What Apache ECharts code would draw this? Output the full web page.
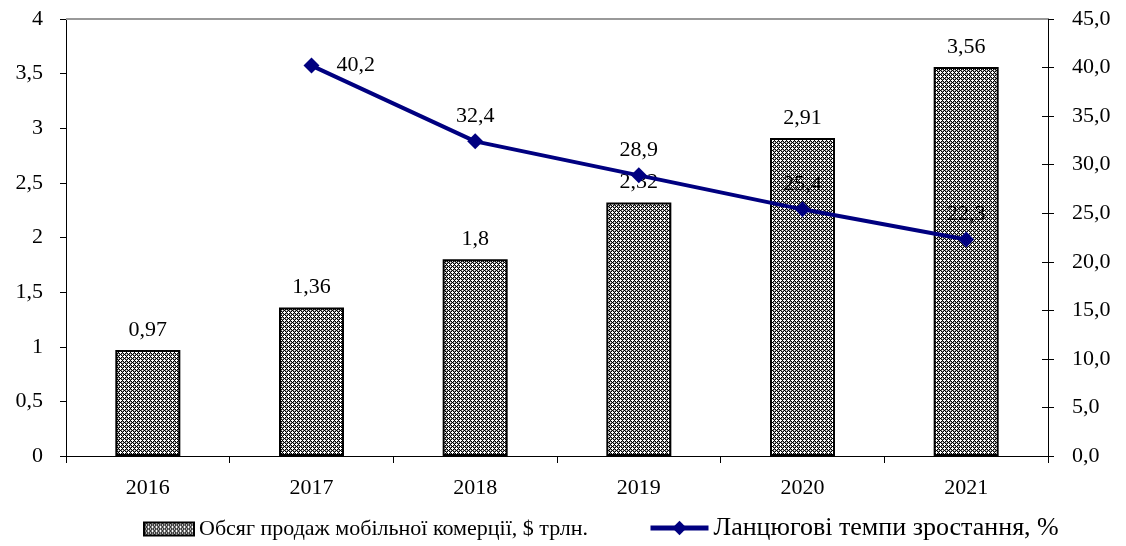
<!DOCTYPE html>
<html><head><meta charset="utf-8">
<script src="https://cdn.jsdelivr.net/npm/echarts@6/dist/echarts.min.js"></script>
<style>html,body{margin:0;padding:0;background:#fff}#c{width:1126px;height:546px}</style>
</head><body><div id="c"></div>
<script>
const years = ['2016','2017','2018','2019','2020','2021'];
const salesVolume = [0.97, 1.36, 1.8, 2.32, 2.91, 3.56];
const growthRate = [null, 40.2, 32.4, 28.9, 25.4, 22.3];
const barName = 'Обсяг продаж мобільної комерції, $ трлн.';
const lineName = 'Ланцюгові темпи зростання, %';

function makePattern(){
  const rows = ['WWBWWWBW','WBGBWBGB','BGWGBGWG','WBGBWBGB','WWBWWWBW','WBGBWBGB','BGWGBGWG','WBGBWBGB'];
  const col = {W:'#fff', B:'#000', G:'#777'};
  const c = document.createElement('canvas');
  c.width = 8; c.height = 8;
  const g = c.getContext('2d');
  rows.forEach((r,y)=>{ for(let x=0;x<8;x++){ g.fillStyle = col[r[x]]; g.fillRect(x,y,1,1);} });
  return c;
}
const pat = {image: makePattern(), repeat: 'repeat'};
const fmt = v => String(v).replace('.', ',');
const font = '"Liberation Serif", "Times New Roman", serif';
const FS = 22;

const chart = echarts.init(document.getElementById('c'));
chart.setOption({
  animation: false,
  textStyle: {fontFamily: font, color: '#000'},
  grid: {left: 66, right: 78, top: 19, bottom: 90},
  legend: [
    {data: [{name: barName, icon: 'rect'}], left: 138, bottom: 1, itemWidth: 50, itemHeight: 13, itemGap: 6,
     textStyle: {fontFamily: font, fontSize: FS, color: '#000'}},
    {data: [lineName], left: 643, bottom: 0, itemWidth: 58, itemHeight: 18, itemGap: 5,
     lineStyle: {width: 5},
     textStyle: {fontFamily: font, fontSize: 26, color: '#000'}}
  ],
  xAxis: {
    type: 'category', data: years,
    axisLine: {lineStyle: {color: '#000', width: 1}},
    axisTick: {show: true, length: 7, lineStyle: {color: '#000'}},
    axisLabel: {fontFamily: font, fontSize: FS, color: '#000', margin: 21}
  },
  yAxis: [
    {type: 'value', min: 0, max: 4, interval: 0.5, position: 'left',
     axisLine: {show: true, lineStyle: {color: '#000'}},
     axisTick: {show: true, length: 6, lineStyle: {color: '#000'}},
     axisLabel: {fontFamily: font, fontSize: FS, color: '#000', margin: 23, formatter: v => fmt(v)},
     splitLine: {show: false}},
    {type: 'value', min: 0, max: 45, interval: 5, position: 'right',
     axisLine: {show: true, lineStyle: {color: '#000'}},
     axisTick: {show: true, length: 6, lineStyle: {color: '#000'}},
     axisLabel: {fontFamily: font, fontSize: FS, color: '#000', margin: 24, formatter: v => v.toFixed(1).replace('.', ',')},
     splitLine: {show: false}},
    {type: 'value', min: 0, max: 45, interval: 5, position: 'right',
     axisLine: {show: false},
     axisTick: {show: true, inside: true, length: 6, lineStyle: {color: '#000'}},
     axisLabel: {show: false}, splitLine: {show: false}}
  ],
  series: [
    {name: barName, type: 'bar', yAxisIndex: 0, data: salesVolume, barWidth: 65,
     itemStyle: {color: pat, borderColor: '#000', borderWidth: 2},
     label: {show: true, position: 'top', distance: 9, fontFamily: font, fontSize: FS, color: '#000', formatter: p => fmt(p.value)},
     z: 2},
    {name: lineName, type: 'line', yAxisIndex: 1,
     data: growthRate.map((v,i)=> i===1 ? {value: v, label: {position: 'right', distance: 17}} : v),
     lineStyle: {color: '#000080', width: 4}, itemStyle: {color: '#000080'},
     symbol: 'diamond', symbolSize: 16, showSymbol: true,
     label: {show: true, position: 'top', distance: 6, fontFamily: font, fontSize: FS, color: '#000',
       formatter: p => p.value == null ? '' : fmt(p.value)},
     z: 5},
    {type: 'line', data: [], yAxisIndex: 0, markLine: {silent: true, symbol: 'none', label: {show: false},
      lineStyle: {color: '#999', type: 'solid', width: 2}, data: [{yAxis: 4}]}}
  ]
});
</script></body></html>
